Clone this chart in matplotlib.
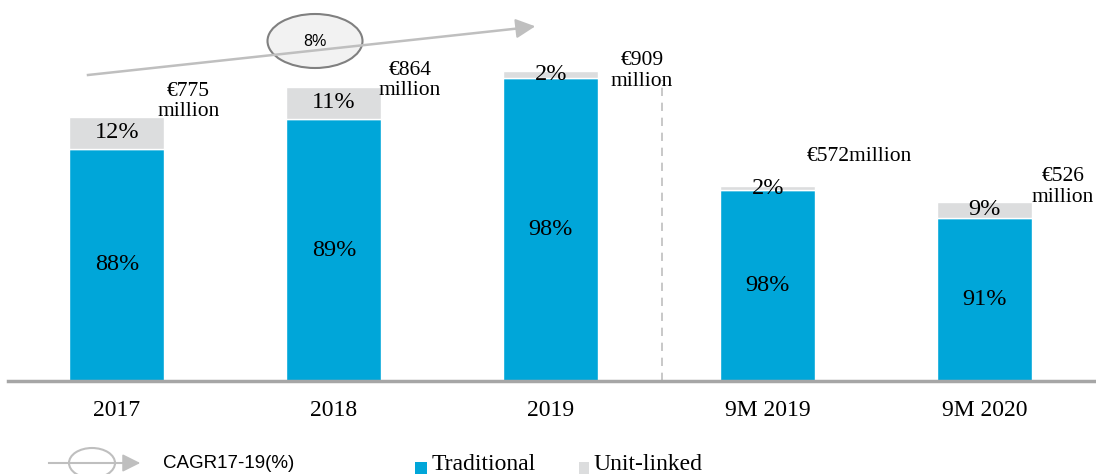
import numpy as np
import matplotlib.pyplot as plt
from matplotlib.patches import Ellipse, Rectangle

categories = ['2017', '2018', '2019', '9M 2019', '9M 2020']
totals = [775, 864, 909, 572, 526]
traditional_pct = [88, 89, 98, 98, 91]
unit_linked_pct = [12, 11, 2, 2, 9]
total_labels = ['€775\nmillion', '€864\nmillion', '€909\nmillion', '€572million', '€526\nmillion']
cagr_label = '8%'

blue = '#00A6D9'
grey = '#DCDDDE'
serif = ['Liberation Serif', 'DejaVu Serif']
sans = ['Liberation Sans', 'DejaVu Sans']

W, H = 1096, 474
fig = plt.figure(figsize=(W / 100, H / 100), dpi=100)


def fx(px):
    return px / W


def fy(py):
    return 1 - py / H


ax = fig.add_axes([fx(8), fy(381), fx(1096 - 8), 381 / H])
x = np.arange(len(categories))
tot = np.array(totals, dtype=float)
trad = tot * np.array(traditional_pct) / 100
unit = tot * np.array(unit_linked_pct) / 100

ax.bar(x, trad, width=0.438, color=blue, edgecolor='white', linewidth=1.0)
ax.bar(x, unit, bottom=trad, width=0.438, color=grey, edgecolor='white', linewidth=1.0)

for i in range(len(x)):
    ax.text(x[i], trad[i] / 2, f'{traditional_pct[i]}%', ha='center', va='center',
            fontsize=17.5, family=serif)
    ax.text(x[i], trad[i] + unit[i] / 2, f'{unit_linked_pct[i]}%', ha='center', va='center',
            fontsize=17.5, family=serif)

# total labels, placed to the right of each bar
dx = [0.33, 0.35, 0.42, 0.42, 0.36]
dy = [45, 18, 2, 86, 44]
for i in range(len(x)):
    ax.text(x[i] + dx[i], tot[i] + dy[i], total_labels[i], ha='center', va='center',
            fontsize=15.5, family=serif, linespacing=1.1)

ax.plot([2.51, 2.51], [0, 884], color='#BFBFBF', linestyle=(0, (5, 4)), linewidth=1.2)

ax.set_xlim(-0.502, 4.512)
ax.set_ylim(0, 381 / 0.3405)
for s in ['top', 'right', 'left']:
    ax.spines[s].set_visible(False)
ax.spines['bottom'].set_color('#A6A6A6')
ax.spines['bottom'].set_linewidth(2.5)
ax.set_yticks([])
ax.set_xticks(x)
ax.set_xticklabels(categories, fontsize=17, family=serif)
ax.tick_params(axis='x', length=0, pad=14)

# CAGR arrow
fig.add_artist(plt.Line2D([fx(88), fx(522)], [fy(75), fy(28)], color='#BFBFBF', linewidth=1.8,
                          transform=fig.transFigure))
ax.annotate('', xy=(fx(538), fy(26)), xytext=(fx(516), fy(28.5)), xycoords='figure fraction',
            textcoords='figure fraction',
            arrowprops=dict(arrowstyle='-|>,head_length=1.2,head_width=0.6', color='#BFBFBF', lw=1.5))
fig.add_artist(Ellipse((fx(315), fy(41)), fx(95), 54 / H, transform=fig.transFigure,
                       facecolor='#F2F2F2', edgecolor='#808080', linewidth=1.5))
fig.text(fx(315), fy(42), cagr_label, ha='center', va='center', fontsize=11.5, family=sans)

# legend
fig.add_artist(plt.Line2D([fx(49), fx(125)], [fy(463), fy(463)], color='#BFBFBF', linewidth=1.5,
                          transform=fig.transFigure))
fig.add_artist(Ellipse((fx(92), fy(463)), fx(46), 30 / H, transform=fig.transFigure,
                       facecolor='white', edgecolor='#BFBFBF', linewidth=1.5))
ax.annotate('', xy=(fx(143), fy(463)), xytext=(fx(122), fy(463)), xycoords='figure fraction',
            textcoords='figure fraction',
            arrowprops=dict(arrowstyle='-|>,head_length=1.1,head_width=0.55', color='#BFBFBF', lw=1.2))
fig.text(fx(163), fy(463), 'CAGR17-19(%)', ha='left', va='center', fontsize=13.5, family=sans)

fig.add_artist(Rectangle((fx(415), fy(474)), fx(12), 12 / H, transform=fig.transFigure,
                         facecolor=blue, edgecolor='none'))
fig.text(fx(432), fy(465), 'Traditional', ha='left', va='center', fontsize=17, family=serif)
fig.add_artist(Rectangle((fx(579), fy(474)), fx(10), 12 / H, transform=fig.transFigure,
                         facecolor=grey, edgecolor='none'))
fig.text(fx(593), fy(465), 'Unit-linked', ha='left', va='center', fontsize=17, family=serif)

fig.savefig('out.png', dpi=100)
